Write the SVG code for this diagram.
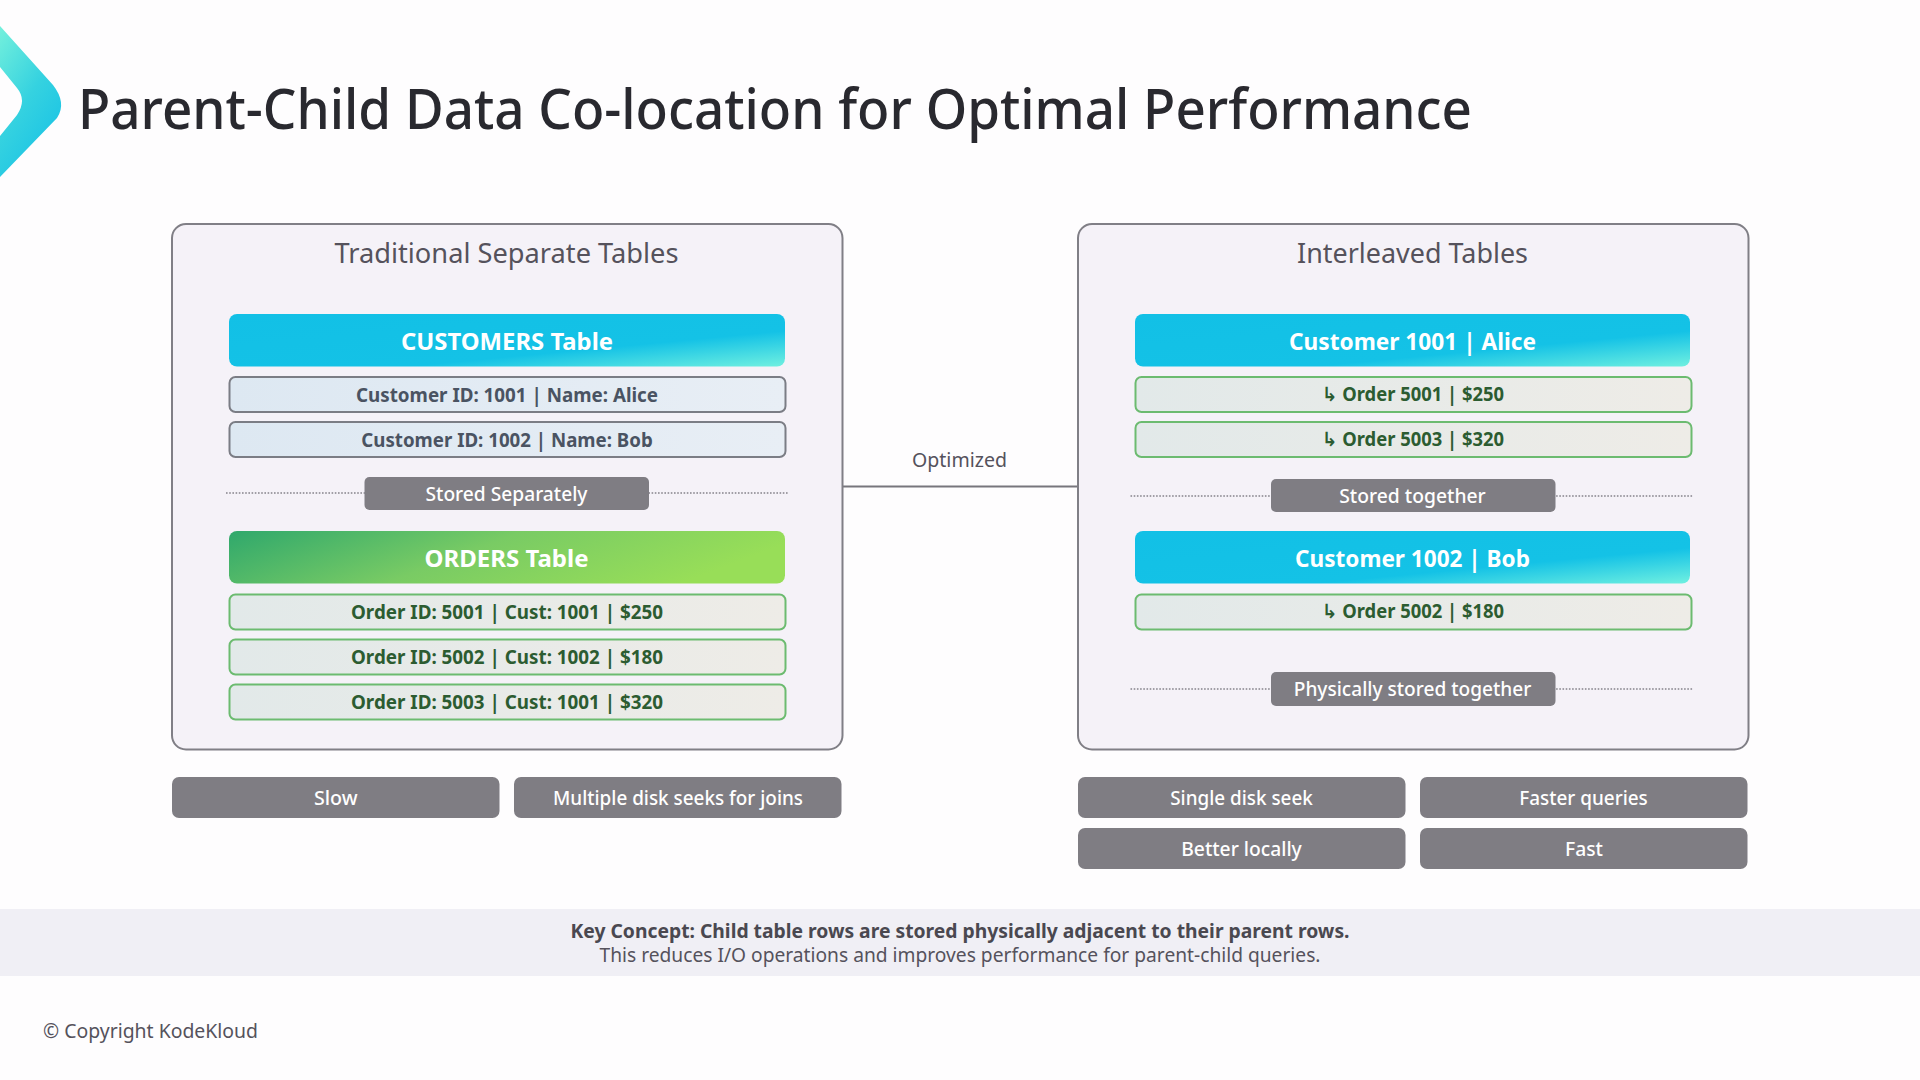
<svg xmlns="http://www.w3.org/2000/svg" width="1920" height="1080" viewBox="0 0 1920 1080">
<style>
text{font-family:"Noto Sans","Open Sans","DejaVu Sans",sans-serif;text-anchor:middle}
.panel{fill:#f5f2f8;stroke:#807f86;stroke-width:2}
.ptitle{font-size:27px;fill:#55525c}
.cust{fill:url(#gCust)}
.ord{fill:url(#gOrd)}
.hdr{font-size:23.5px;font-weight:700;fill:#fff}
.rowc{fill:url(#gRowC);stroke:#7b7d85;stroke-width:2}
.rowo{fill:url(#gRowO);stroke:#6cbb70;stroke-width:2}
.tc{font-size:19.5px;font-weight:700;fill:#4a5362}
.to{font-size:19.5px;font-weight:700;fill:#2c5c31}
.badge{fill:#7f7d83}
.tb{font-size:20px;font-weight:500;fill:#fff}
.dot{stroke:#85838a;stroke-width:1.6;stroke-dasharray:1.6 1.6;fill:none}
.conn{stroke:#77767c;stroke-width:2;fill:none}
</style>
<defs>
<linearGradient id="gLogo" x1="0" y1="0" x2="0.6" y2="1"><stop offset="0" stop-color="#74f0dc"/><stop offset="0.55" stop-color="#35d2e0"/><stop offset="1" stop-color="#1ac3e5"/></linearGradient>
<linearGradient id="gCust" x1="0" y1="0" x2="1" y2="1"><stop offset="0" stop-color="#12c0e6"/><stop offset="0.66" stop-color="#14c2e6"/><stop offset="1" stop-color="#70f0e0"/></linearGradient>
<linearGradient id="gOrd" x1="0" y1="0" x2="1" y2="0.25"><stop offset="0" stop-color="#2fa86c"/><stop offset="0.5" stop-color="#79cb64"/><stop offset="1" stop-color="#98de58"/></linearGradient>
<linearGradient id="gRowC" x1="0" y1="0" x2="1" y2="0"><stop offset="0" stop-color="#dde8f2"/><stop offset="1" stop-color="#e8eef5"/></linearGradient>
<linearGradient id="gRowO" x1="0" y1="0" x2="1" y2="0"><stop offset="0" stop-color="#e2e9e9"/><stop offset="1" stop-color="#eeece7"/></linearGradient>
</defs>
<rect width="1920" height="1080" fill="#fefdfe"/>
<g id="logo"><path d="M0 26 L53 85 Q67 103 57 118 L0 177 L0 136 L17 115 Q27 100 17 88 L0 67 Z" fill="url(#gLogo)"/></g>
<text id="title" x="775" y="129" font-size="56" font-weight="500" fill="#29292f" textLength="1394" lengthAdjust="spacingAndGlyphs">Parent-Child Data Co-location for Optimal Performance</text>

<g id="connectors">
<line class="conn" x1="843" y1="486.5" x2="1078" y2="486.5"/>
<text x="959.5" y="467" font-size="20" fill="#55525c" textLength="95" lengthAdjust="spacingAndGlyphs">Optimized</text>
</g>

<g id="panel-traditional">
<rect class="panel" x="172" y="224" width="670.5" height="525.5" rx="14"/>
<text class="ptitle" x="506.5" y="263" textLength="344" lengthAdjust="spacingAndGlyphs">Traditional Separate Tables</text>
</g>
<g id="customers-table"><rect class="cust" x="229" y="314" width="556" height="52.5" rx="8"/><text class="hdr" x="507" y="350" textLength="212" lengthAdjust="spacingAndGlyphs">CUSTOMERS Table</text></g>
<g id="customer-1001"><rect class="rowc" x="229.5" y="377" width="556" height="35" rx="6"/><text class="tc" x="507" y="402" textLength="302" lengthAdjust="spacingAndGlyphs">Customer ID: 1001 | Name: Alice</text></g>
<g id="customer-1002"><rect class="rowc" x="229.5" y="422" width="556" height="35" rx="6"/><text class="tc" x="507" y="447" textLength="291.5" lengthAdjust="spacingAndGlyphs">Customer ID: 1002 | Name: Bob</text></g>
<g id="stored-separately"><line class="dot" x1="226" y1="493" x2="788" y2="493"/><rect class="badge" x="364.5" y="477" width="284.5" height="33" rx="5"/><text class="tb" x="506.5" y="500.5" textLength="162" lengthAdjust="spacingAndGlyphs">Stored Separately</text></g>
<g id="orders-table"><rect class="ord" x="229" y="531" width="556" height="52.5" rx="8"/><text class="hdr" x="506.5" y="567" textLength="164" lengthAdjust="spacingAndGlyphs">ORDERS Table</text></g>
<g id="order-5001"><rect class="rowo" x="229.5" y="594.5" width="556" height="35" rx="6"/><text class="to" x="507" y="619" textLength="312" lengthAdjust="spacingAndGlyphs">Order ID: 5001 | Cust: 1001 | $250</text></g>
<g id="order-5002"><rect class="rowo" x="229.5" y="639.5" width="556" height="35" rx="6"/><text class="to" x="507" y="664" textLength="312" lengthAdjust="spacingAndGlyphs">Order ID: 5002 | Cust: 1002 | $180</text></g>
<g id="order-5003"><rect class="rowo" x="229.5" y="684.5" width="556" height="35" rx="6"/><text class="to" x="507" y="709" textLength="312" lengthAdjust="spacingAndGlyphs">Order ID: 5003 | Cust: 1001 | $320</text></g>

<g id="panel-interleaved">
<rect class="panel" x="1078" y="224" width="670.5" height="525.5" rx="14"/>
<text class="ptitle" x="1412.5" y="263" textLength="231" lengthAdjust="spacingAndGlyphs">Interleaved Tables</text>
</g>
<g id="customer-1001-alice"><rect class="cust" x="1135" y="314" width="555" height="52.5" rx="8"/><text class="hdr" x="1412.5" y="349.5" textLength="247" lengthAdjust="spacingAndGlyphs">Customer 1001 | Alice</text></g>
<g id="nested-order-5001"><rect class="rowo" x="1135.5" y="377" width="556" height="35" rx="6"/><text class="to" x="1413" y="401" textLength="182" lengthAdjust="spacingAndGlyphs">↳ Order 5001 | $250</text></g>
<g id="nested-order-5003"><rect class="rowo" x="1135.5" y="422" width="556" height="35" rx="6"/><text class="to" x="1413" y="446" textLength="182" lengthAdjust="spacingAndGlyphs">↳ Order 5003 | $320</text></g>
<g id="stored-together"><line class="dot" x1="1130.5" y1="496" x2="1693" y2="496"/><rect class="badge" x="1271" y="479" width="284.5" height="33" rx="5"/><text class="tb" x="1412.5" y="503" textLength="146.5" lengthAdjust="spacingAndGlyphs">Stored together</text></g>
<g id="customer-1002-bob"><rect class="cust" x="1135" y="531" width="555" height="52.5" rx="8"/><text class="hdr" x="1412.5" y="567" textLength="235" lengthAdjust="spacingAndGlyphs">Customer 1002 | Bob</text></g>
<g id="nested-order-5002"><rect class="rowo" x="1135.5" y="594.5" width="556" height="35" rx="6"/><text class="to" x="1413" y="617.5" textLength="182" lengthAdjust="spacingAndGlyphs">↳ Order 5002 | $180</text></g>
<g id="physically-stored"><line class="dot" x1="1130.5" y1="689" x2="1693" y2="689"/><rect class="badge" x="1271" y="672" width="284.5" height="34" rx="5"/><text class="tb" x="1412.5" y="696" textLength="237.5" lengthAdjust="spacingAndGlyphs">Physically stored together</text></g>

<g id="btn-slow"><rect class="badge" x="172" y="777" width="327.5" height="41" rx="7"/><text class="tb" x="335.8" y="805" textLength="43.6" lengthAdjust="spacingAndGlyphs">Slow</text></g>
<g id="btn-multiple"><rect class="badge" x="514" y="777" width="327.5" height="41" rx="7"/><text class="tb" x="678" y="805" textLength="250" lengthAdjust="spacingAndGlyphs">Multiple disk seeks for joins</text></g>
<g id="btn-single"><rect class="badge" x="1078" y="777" width="327.5" height="41" rx="7"/><text class="tb" x="1241.5" y="805" textLength="142.5" lengthAdjust="spacingAndGlyphs">Single disk seek</text></g>
<g id="btn-faster"><rect class="badge" x="1420" y="777" width="327.5" height="41" rx="7"/><text class="tb" x="1583.5" y="805" textLength="128.6" lengthAdjust="spacingAndGlyphs">Faster queries</text></g>
<g id="btn-better"><rect class="badge" x="1078" y="828" width="327.5" height="41" rx="7"/><text class="tb" x="1241.5" y="856" textLength="120.5" lengthAdjust="spacingAndGlyphs">Better locally</text></g>
<g id="btn-fast"><rect class="badge" x="1420" y="828" width="327.5" height="41" rx="7"/><text class="tb" x="1584" y="856" textLength="38" lengthAdjust="spacingAndGlyphs">Fast</text></g>

<g id="key-concept">
<rect x="0" y="909" width="1920" height="67" fill="#f0eff5"/>
<text x="960" y="937.5" font-size="20" font-weight="700" fill="#4a4850" textLength="779" lengthAdjust="spacingAndGlyphs">Key Concept: Child table rows are stored physically adjacent to their parent rows.</text>
<text x="960" y="962" font-size="20" fill="#55525c" textLength="721" lengthAdjust="spacingAndGlyphs">This reduces I/O operations and improves performance for parent-child queries.</text>
</g>
<text id="copyright" x="150.5" y="1038" font-size="20" fill="#55525c" textLength="215" lengthAdjust="spacingAndGlyphs">© Copyright KodeKloud</text>
</svg>
